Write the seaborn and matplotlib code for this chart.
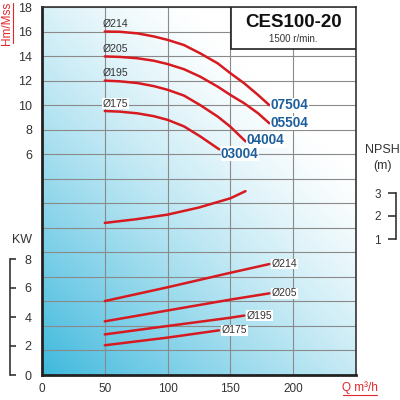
import numpy as np
import pandas as pd
import matplotlib
matplotlib.use('Agg')
import matplotlib.pyplot as plt
import seaborn as sns
from matplotlib.colors import LinearSegmentedColormap
from matplotlib.patches import Rectangle
from matplotlib.lines import Line2D

#curve data
diameters = ['Ø214', 'Ø205', 'Ø195', 'Ø175']
models = ['07504', '05504', '04004', '03004']

head_q = [[50, 62, 76, 89, 100, 113, 126, 140, 150, 161, 172, 181],
          [50, 62, 76, 89, 100, 113, 126, 140, 150, 161, 172, 181],
          [50, 62, 76, 89, 100, 113, 126, 140, 150, 162],
          [50, 62, 76, 89, 100, 113, 126, 141]]
head_h = [[16.0, 15.98, 15.85, 15.6, 15.32, 14.9, 14.22, 13.4, 12.6, 11.78, 10.83, 10.0],
          [13.97, 13.93, 13.82, 13.62, 13.35, 12.93, 12.32, 11.5, 10.83, 10.15, 9.34, 8.52],
          [12.0, 11.94, 11.8, 11.55, 11.25, 10.78, 10.0, 9.06, 8.24, 7.05],
          [9.52, 9.47, 9.33, 9.1, 8.8, 8.27, 7.45, 6.4]]

power_q = [[50, 100, 150, 181],
           [50, 100, 150, 181],
           [50, 100, 150, 161],
           [50, 100, 141]]
power_kw = [[5.1, 6.05, 7.05, 7.65],
            [3.7, 4.45, 5.2, 5.63],
            [2.8, 3.38, 3.95, 4.1],
            [2.05, 2.58, 3.08]]

npsh_q = [50, 75, 100, 125, 150, 162]
npsh_m = [1.7, 1.86, 2.06, 2.37, 2.77, 3.08]

x_ticks = [0, 50, 100, 150, 200]
h_ticks = [6, 8, 10, 12, 14, 16, 18]
kw_ticks = [0, 2, 4, 6, 8]
npsh_ticks = [1, 2, 3]

red = '#d71920'
txt_red = '#e0262a'
blue = '#1c5f9c'
grey = '#333333'

sns.set_theme(style='white')
plt.rcParams['font.family'] = ['Liberation Sans', 'DejaVu Sans']

fig = plt.figure(figsize=(4, 4), dpi=100)
ax = fig.add_axes([0.105, 0.0625, 0.785, 0.92])
ax.set_xlim(0, 250)
ax.set_ylim(-12, 18)

#background gradient, blue in the lower left fading out
gx, gy = np.meshgrid(np.linspace(0, 1, 200), np.linspace(0, 1, 200))
s = np.clip((gx * 314 + gy * 368) / 520, 0, 1)
shade = np.clip(1 - s, 0, 1) ** 1.3
cmap = LinearSegmentedColormap.from_list('bg', ['white', '#3fb9dd'])
ax.imshow(shade, extent=(0, 250, -12, 18), origin='lower', aspect='auto',
          cmap=cmap, vmin=0, vmax=1, zorder=0)

ax.set_xticks(x_ticks + [250])
ax.set_xticklabels([str(v) for v in x_ticks] + [''], fontsize=8.5, color=grey)
ax.set_yticks(range(-12, 19, 2))
ax.set_yticklabels([str(v) if v in h_ticks else '' for v in range(-12, 19, 2)],
                   fontsize=9, color=grey)
ax.tick_params(axis='y', length=0, pad=7)
ax.tick_params(axis='x', length=0, pad=6)
ax.set_axisbelow(True)
ax.grid(True, color='#8a8a8a', lw=0.8)
for side in ['left', 'bottom']:
    ax.spines[side].set_linewidth(2)
    ax.spines[side].set_color('#222222')
for side in ['top', 'right']:
    ax.spines[side].set_linewidth(1.2)
    ax.spines[side].set_color('#333333')

#head curves
for q, h, d in zip(head_q, head_h, diameters):
    sns.lineplot(x=q, y=h, ax=ax, color=red, lw=1.8, zorder=3)
    ax.text(48.5, h[0] + 0.6, d, fontsize=7.5, color=grey, ha='left', va='center', zorder=4,
            bbox=dict(fc='white', ec='none', pad=0.5) if d == 'Ø175' else None)
head_lbl_pos = [(182, 10.0), (182, 8.55), (163, 7.15), (142.5, 6.05)]
for (lx, ly), m in zip(head_lbl_pos, models):
    ax.text(lx, ly, m, fontsize=9.8, fontweight='bold', color=blue,
            ha='left', va='center', zorder=4, bbox=dict(fc='white', ec='none', pad=0.3))

#title box
ax.add_patch(Rectangle((0.602, 0.886), 0.398, 0.114, transform=ax.transAxes,
                       fc='white', ec='#222222', lw=1.2, zorder=5))
ax.text(0.801, 0.957, 'CES100-20', transform=ax.transAxes, fontsize=13.5, fontweight='bold',
        ha='center', va='center', color='#111111', zorder=6)
ax.text(0.801, 0.912, '1500 r/min.', transform=ax.transAxes, fontsize=7, color=grey,
        ha='center', va='center', zorder=6)

#power curves on their own scale
ax_kw = ax.twinx()
ax_kw.set_ylim(0, 368 / 14.5)
ax_kw.axis('off')
for q, p, d in zip(power_q, power_kw, diameters):
    sns.lineplot(x=q, y=p, ax=ax_kw, color=red, lw=1.8)
    ax_kw.text(q[-1] + 2, p[-1], d, fontsize=7.5, color=grey, ha='left', va='center',
               bbox=dict(fc='white', ec='none', pad=0.3))

#npsh curve
ax_np = ax.twinx()
ax_np.set_ylim(1 - 136 / 23, 3 + 186 / 23)
ax_np.axis('off')
sns.lineplot(x=npsh_q, y=npsh_m, ax=ax_np, color=red, lw=1.8)

#KW bracket axis on the left
ax_kwb = fig.add_axes([10 / 400, 0.0625, 0.0001, 0.92])
ax_kwb.set_ylim(0, 368 / 14.5)
ax_kwb.patch.set_visible(False)
for side in ['left', 'top', 'bottom']:
    ax_kwb.spines[side].set_visible(False)
ax_kwb.spines['right'].set_bounds(0, 8)
ax_kwb.spines['right'].set_color(grey)
ax_kwb.spines['right'].set_linewidth(1.2)
ax_kwb.set_xticks([])
ax_kwb.yaxis.tick_right()
ax_kwb.set_yticks(kw_ticks)
ax_kwb.set_yticklabels([str(v) for v in kw_ticks], fontsize=9, color=grey)
ax_kwb.tick_params(axis='y', direction='out', length=4.5, width=1.2, color=grey, pad=6)

#NPSH bracket axis on the right
ax_npb = fig.add_axes([396 / 400, 0.0625, 0.0001, 0.92])
ax_npb.set_ylim(1 - 136 / 23, 3 + 186 / 23)
ax_npb.patch.set_visible(False)
for side in ['right', 'top', 'bottom']:
    ax_npb.spines[side].set_visible(False)
ax_npb.spines['left'].set_bounds(1, 3)
ax_npb.spines['left'].set_color(grey)
ax_npb.spines['left'].set_linewidth(1.2)
ax_npb.set_xticks([])
ax_npb.set_yticks(npsh_ticks)
ax_npb.set_yticklabels([str(v) for v in npsh_ticks], fontsize=8.5, color=grey)
ax_npb.tick_params(axis='y', left=True, right=False, direction='out', length=6,
                   width=1.2, color=grey, pad=5)

#axis titles
fig.text(22 / 400, 1 - 240 / 400, 'KW', fontsize=9, color=grey, ha='center', va='center')
fig.text(382 / 400, 1 - 150 / 400, 'NPSH', fontsize=9, color=grey, ha='center', va='center')
fig.text(382 / 400, 1 - 166 / 400, '(m)', fontsize=9, color=grey, ha='center', va='center')
fig.text(360 / 400, 1 - 388 / 400, 'Q m³/h', fontsize=8.5, color=txt_red,
         ha='center', va='center')
fig.lines.append(Line2D([343 / 400, 377 / 400], [5 / 400, 5 / 400], transform=fig.transFigure,
                        color=txt_red, lw=0.8))
fig.text(7 / 400, 1 - 23 / 400, 'Hm/Mss', fontsize=8.5, color=txt_red,
         rotation=90, ha='center', va='center')
fig.lines.append(Line2D([13 / 400, 13 / 400], [1 - 3 / 400, 1 - 43 / 400], transform=fig.transFigure,
                        color=txt_red, lw=0.8))

plt.savefig('out.png', dpi=100)
